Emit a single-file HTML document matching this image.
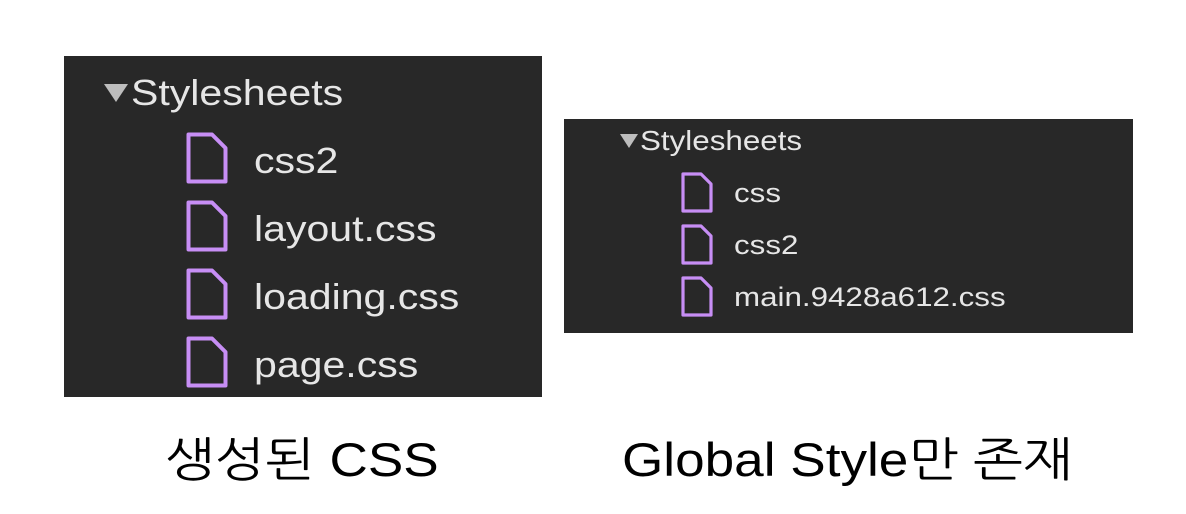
<!DOCTYPE html>
<html><head><meta charset="utf-8"><style>
body{margin:0;width:1186px;height:514px;background:#fff;position:relative;overflow:hidden;font-family:"Liberation Sans","NanumGothic","Noto Sans CJK KR",sans-serif}
.p{position:absolute;background:#282828}
.t{position:absolute;color:#e6e6e6;white-space:nowrap;line-height:1;transform:scaleX(1.14);transform-origin:0 0}
.c{position:absolute;color:#000;white-space:nowrap;line-height:1;font-size:47px;transform:scaleX(1.13);transform-origin:0 0}
svg{position:absolute}
</style></head><body>
<div class="p" style="left:64px;top:56px;width:478px;height:341px"></div>
<div class="p" style="left:564px;top:119px;width:569px;height:214px"></div>

<svg style="left:104px;top:84px" width="24" height="18"><polygon points="0,0 24,0 12,18" fill="#bdbdbd"/></svg>
<div class="t" style="left:131px;top:75px;font-size:36px">Stylesheets</div>

<svg style="left:186px;top:132px" width="42" height="52"><path d="M2.5 2.5H26L39.5 16V49.5H2.5Z" fill="none" stroke="#c78ef5" stroke-width="4" stroke-linejoin="round"/></svg>
<div class="t" style="left:254px;top:143px;font-size:36px">css2</div>
<svg style="left:186px;top:200px" width="42" height="52"><path d="M2.5 2.5H26L39.5 16V49.5H2.5Z" fill="none" stroke="#c78ef5" stroke-width="4" stroke-linejoin="round"/></svg>
<div class="t" style="left:254px;top:211px;font-size:36px">layout.css</div>
<svg style="left:186px;top:268px" width="42" height="52"><path d="M2.5 2.5H26L39.5 16V49.5H2.5Z" fill="none" stroke="#c78ef5" stroke-width="4" stroke-linejoin="round"/></svg>
<div class="t" style="left:254px;top:279px;font-size:36px">loading.css</div>
<svg style="left:186px;top:336px" width="42" height="52"><path d="M2.5 2.5H26L39.5 16V49.5H2.5Z" fill="none" stroke="#c78ef5" stroke-width="4" stroke-linejoin="round"/></svg>
<div class="t" style="left:254px;top:347px;font-size:36px">page.css</div>

<svg style="left:620px;top:134px" width="18" height="14"><polygon points="0,0 18,0 9,14" fill="#bdbdbd"/></svg>
<div class="t" style="left:640px;top:127px;font-size:28px;transform:scaleX(1.12)">Stylesheets</div>

<svg style="left:681px;top:172px" width="32" height="41"><path d="M2 2H20L30 12V39H2Z" fill="none" stroke="#c78ef5" stroke-width="3.2" stroke-linejoin="round"/></svg>
<div class="t" style="left:734px;top:180px;font-size:27px;transform:scaleX(1.16)">css</div>
<svg style="left:681px;top:224px" width="32" height="41"><path d="M2 2H20L30 12V39H2Z" fill="none" stroke="#c78ef5" stroke-width="3.2" stroke-linejoin="round"/></svg>
<div class="t" style="left:734px;top:232px;font-size:27px;transform:scaleX(1.16)">css2</div>
<svg style="left:681px;top:276px" width="32" height="41"><path d="M2 2H20L30 12V39H2Z" fill="none" stroke="#c78ef5" stroke-width="3.2" stroke-linejoin="round"/></svg>
<div class="t" style="left:734px;top:284px;font-size:27px;transform:scaleX(1.16)">main.9428a612.css</div>

<div class="c" style="left:165px;top:436px">생성된 CSS</div>
<div class="c" style="left:622px;top:436px">Global Style만 존재</div>
</body></html>
